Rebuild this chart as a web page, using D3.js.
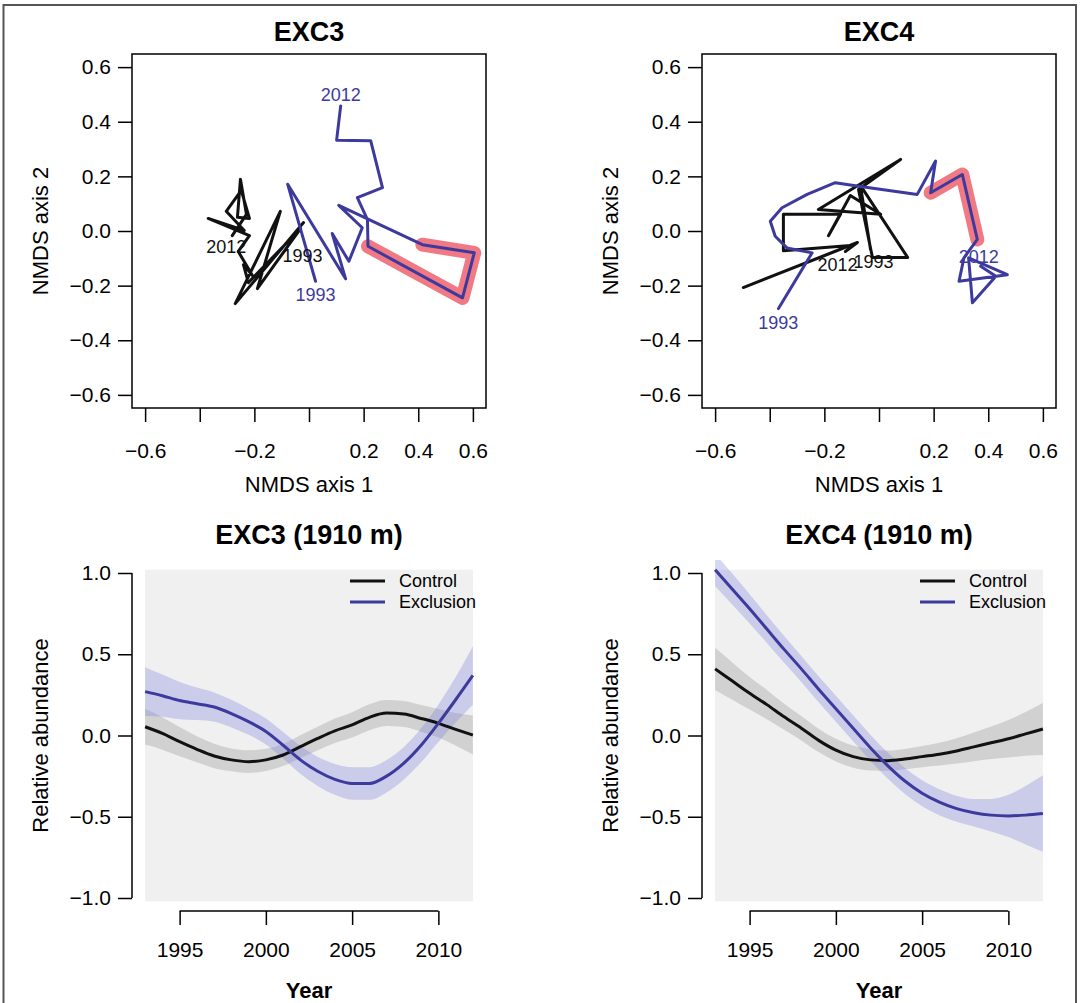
<!DOCTYPE html>
<html>
<head>
<meta charset="utf-8">
<script src="https://cdn.jsdelivr.net/npm/d3@7"></script>
<style>
    body { margin: 0; background: #fff; }
    svg text { font-family: "Liberation Sans", Arial, Helvetica, sans-serif; }
</style>
</head>
<body>
<div id="chart"></div>
<script>

// ---- NMDS trajectories (axis 1, axis 2), 1993 -> 2012
const exc3Control = [
    [-0.020, 0.031], [-0.270, -0.266], [-0.105, 0.072], [-0.189, -0.211], [-0.031, 0.009],
    [-0.222, -0.189], [-0.240, -0.123], [-0.207, -0.163], [-0.259, -0.075], [-0.218, -0.017],
    [-0.369, 0.046], [-0.237, 0.002], [-0.303, 0.072], [-0.248, 0.149], [-0.218, 0.046],
    [-0.262, 0.050], [-0.251, 0.189], [-0.229, 0.061], [-0.281, -0.017]
];
const exc3Exclusion = [
    [0.024, -0.184], [-0.078, 0.171], [0.134, -0.175], [0.085, -0.009], [0.146, -0.111],
    [0.195, 0.012], [0.109, 0.094], [0.415, -0.050], [0.605, -0.080], [0.562, -0.245],
    [0.216, -0.056], [0.214, 0.042], [0.177, 0.122], [0.269, 0.159], [0.226, 0.330],
    [0.101, 0.332], [0.116, 0.458]
];
const exc3Shift = [[0.415, -0.050], [0.605, -0.080], [0.562, -0.245], [0.216, -0.056]];
const exc3Labels = [
    {text: "2012", x: -0.303, y: -0.057, group: "control"},
    {text: "1993", x: -0.024, y: -0.090, group: "control"},
    {text: "1993", x: 0.024, y: -0.233, group: "exclusion"},
    {text: "2012", x: 0.116, y: 0.501, group: "exclusion"}
];

const exc4Control = [
    [-0.031, -0.068], [-0.068, 0.167], [0.105, -0.097], [-0.024, -0.097], [-0.075, 0.152],
    [0.079, 0.262], [-0.222, 0.079], [0.006, 0.061], [-0.105, 0.130], [-0.185, -0.017],
    [-0.141, 0.061], [-0.350, 0.061], [-0.350, -0.072], [-0.105, -0.053], [-0.497, -0.207],
    [-0.079, -0.042], [-0.123, -0.075]
];
const exc4Exclusion = [
    [-0.368, -0.284], [-0.245, -0.080], [-0.337, -0.062], [-0.380, -0.019], [-0.398, 0.036],
    [-0.355, 0.085], [-0.263, 0.134], [-0.160, 0.177], [-0.074, 0.164], [0.140, 0.134],
    [0.207, 0.256], [0.189, 0.140], [0.305, 0.207], [0.360, -0.031], [0.311, -0.098],
    [0.293, -0.184], [0.470, -0.160], [0.328, -0.098], [0.342, -0.263], [0.428, -0.166],
    [0.372, -0.129]
];
const exc4Shift = [[0.189, 0.140], [0.305, 0.207], [0.360, -0.031]];
const exc4Labels = [
    {text: "2012", x: -0.152, y: -0.123, group: "control"},
    {text: "1993", x: -0.020, y: -0.112, group: "control"},
    {text: "1993", x: -0.369, y: -0.336, group: "exclusion"},
    {text: "2012", x: 0.365, y: -0.094, group: "exclusion"}
];

const nmdsTicks = [-0.6, -0.4, -0.2, 0, 0.2, 0.4, 0.6];
const nmdsXLabelled = [-0.6, -0.2, 0.2, 0.4, 0.6];

// ---- smoothed relative abundance with confidence band
const years = [1993, 1994, 1995, 1996, 1997, 1998, 1999, 2000, 2001, 2002,
               2003, 2004, 2005, 2006, 2007, 2008, 2009, 2010, 2011, 2012];

const exc3ControlFit = [0.054, 0.013, -0.038, -0.085, -0.126, -0.150, -0.161, -0.150, -0.120, -0.069,
                        -0.018, 0.029, 0.065, 0.112, 0.138, 0.132, 0.105, 0.075, 0.038, 0.003];
const exc3ControlSE = [0.11, 0.10, 0.09, 0.08, 0.075, 0.07, 0.07, 0.068, 0.068, 0.07,
                       0.072, 0.075, 0.078, 0.08, 0.08, 0.08, 0.082, 0.088, 0.10, 0.12];
const exc3ExclusionFit = [0.27, 0.245, 0.215, 0.195, 0.175, 0.135, 0.085, 0.025, -0.06, -0.15,
                          -0.22, -0.27, -0.295, -0.295, -0.25, -0.17, -0.06, 0.075, 0.22, 0.37];
const exc3ExclusionSE = [0.15, 0.13, 0.115, 0.10, 0.09, 0.085, 0.08, 0.08, 0.082, 0.086,
                         0.09, 0.095, 0.10, 0.10, 0.10, 0.10, 0.105, 0.115, 0.14, 0.18];

const exc4ControlFit = [0.41, 0.335, 0.26, 0.19, 0.115, 0.045, -0.03, -0.09, -0.13, -0.15,
                        -0.155, -0.145, -0.13, -0.115, -0.095, -0.07, -0.045, -0.02, 0.01, 0.04];
const exc4ControlSE = [0.13, 0.115, 0.10, 0.09, 0.08, 0.075, 0.072, 0.07, 0.068, 0.065,
                       0.062, 0.062, 0.065, 0.07, 0.078, 0.088, 0.10, 0.115, 0.135, 0.16];
const exc4ExclusionFit = [1.02, 0.90, 0.78, 0.655, 0.53, 0.41, 0.285, 0.165, 0.045, -0.075,
                          -0.185, -0.28, -0.355, -0.41, -0.45, -0.475, -0.49, -0.495, -0.49, -0.48];
const exc4ExclusionSE = [0.10, 0.095, 0.09, 0.085, 0.082, 0.08, 0.08, 0.08, 0.08, 0.08,
                         0.08, 0.08, 0.08, 0.08, 0.08, 0.085, 0.10, 0.13, 0.18, 0.235];

const yearTicks = [1995, 2000, 2005, 2010];
const abundanceTicks = [-1, -0.5, 0, 0.5, 1];
const legendNames = ["Control", "Exclusion"];

const colors = {control: "#111111", exclusion: "#3d3a9e", shift: "#f06a75"};
const fmt1 = d3.format(".1f");


function styleAxis(sel)
{
    sel.select(".domain").remove();
    sel.attr("font-size", 21)
        .attr("font-family", "Liberation Sans, Arial, sans-serif");
    sel.selectAll(".tick line")
        .attr("stroke", "#000")
        .attr("stroke-width", 1.5);
    sel.selectAll(".tick text").attr("fill", "#000");
}


class NmdsVis
{
    constructor(svg, box, config)
    {
        this.svg = svg;
        this.box = box;
        this.config = config;
        this.initVis();
    }

    initVis()
    {
        let vis = this;
        vis.width = vis.box.width;
        vis.height = vis.box.height;

        vis.g = vis.svg.append("g")
            .attr("transform", `translate(${vis.box.left},${vis.box.top})`);

        // R style: 4% padding around [-0.6, 0.6]
        vis.x = d3.scaleLinear().domain([-0.648, 0.648]).range([0, vis.width]);
        vis.y = d3.scaleLinear().domain([-0.648, 0.648]).range([vis.height, 0]);

        vis.xAxis = d3.axisBottom(vis.x)
            .tickValues(nmdsTicks)
            .tickSize(14)
            .tickPadding(21)
            .tickFormat(d => nmdsXLabelled.includes(d) ? fmt1(d) : "");

        vis.yAxis = d3.axisLeft(vis.y)
            .tickValues(nmdsTicks)
            .tickSize(14)
            .tickPadding(7)
            .tickFormat(fmt1);

        vis.g.append("g")
            .attr("transform", `translate(0,${vis.height})`)
            .call(vis.xAxis)
            .call(styleAxis);

        vis.g.append("g")
            .call(vis.yAxis)
            .call(styleAxis);

        vis.line = d3.line()
            .x(d => vis.x(d[0]))
            .y(d => vis.y(d[1]));

        // highlighted shift first so the trajectories sit on top
        vis.g.append("path")
            .datum(vis.config.shift)
            .attr("d", vis.line)
            .attr("fill", "none")
            .attr("stroke", colors.shift)
            .attr("stroke-width", 14)
            .attr("stroke-opacity", 0.9)
            .attr("stroke-linecap", "round")
            .attr("stroke-linejoin", "round");

        vis.g.append("path")
            .datum(vis.config.control)
            .attr("d", vis.line)
            .attr("fill", "none")
            .attr("stroke", colors.control)
            .attr("stroke-width", 3)
            .attr("stroke-linejoin", "round")
            .attr("stroke-linecap", "round");

        vis.g.append("path")
            .datum(vis.config.exclusion)
            .attr("d", vis.line)
            .attr("fill", "none")
            .attr("stroke", colors.exclusion)
            .attr("stroke-width", 3)
            .attr("stroke-linejoin", "round")
            .attr("stroke-linecap", "round");

        vis.g.selectAll(".yearlabel")
            .data(vis.config.labels)
            .enter()
            .append("text")
            .attr("class", "yearlabel")
            .attr("x", d => vis.x(d.x))
            .attr("y", d => vis.y(d.y))
            .attr("dy", "0.36em")
            .attr("text-anchor", "middle")
            .attr("font-size", 18)
            .attr("fill", d => colors[d.group])
            .text(d => d.text);

        vis.g.append("rect")
            .attr("width", vis.width)
            .attr("height", vis.height)
            .attr("fill", "none")
            .attr("stroke", "#000")
            .attr("stroke-width", 1.5);

        vis.g.append("text")
            .attr("x", vis.width / 2)
            .attr("y", -13)
            .attr("text-anchor", "middle")
            .attr("font-size", 27)
            .attr("font-weight", "bold")
            .text(vis.config.title);

        vis.g.append("text")
            .attr("x", vis.width / 2)
            .attr("y", vis.height + 84)
            .attr("text-anchor", "middle")
            .attr("font-size", 22)
            .text("NMDS axis 1");

        vis.g.append("text")
            .attr("transform", `translate(-84,${vis.height / 2}) rotate(-90)`)
            .attr("text-anchor", "middle")
            .attr("font-size", 22)
            .text("NMDS axis 2");
    }
}


class TrendVis
{
    constructor(svg, box, config)
    {
        this.svg = svg;
        this.box = box;
        this.config = config;
        this.initVis();
    }

    initVis()
    {
        let vis = this;
        vis.width = vis.box.width;
        vis.height = vis.box.height;

        vis.g = vis.svg.append("g")
            .attr("transform", `translate(${vis.box.left},${vis.box.top})`);

        vis.x = d3.scaleLinear().domain([1993 - 0.76, 2012 + 0.76]).range([0, vis.width]);
        vis.y = d3.scaleLinear().domain([-1.08, 1.08]).range([vis.height, 0]);

        vis.g.append("clipPath")
            .attr("id", vis.config.id + "-clip")
            .append("rect")
            .attr("width", vis.width)
            .attr("height", vis.height);

        vis.plot = vis.g.append("g")
            .attr("clip-path", `url(#${vis.config.id}-clip)`);

        // pale panel behind the smooths
        vis.plot.append("rect")
            .attr("x", vis.x(years[0]))
            .attr("y", vis.y(1.02))
            .attr("width", vis.x(years[years.length - 1]) - vis.x(years[0]))
            .attr("height", vis.y(-1.02) - vis.y(1.02))
            .attr("fill", "#f0f0f0");

        vis.series = [
            {key: "control", fit: vis.config.controlFit, se: vis.config.controlSE,
                band: "#999999", bandOpacity: 0.35},
            {key: "exclusion", fit: vis.config.exclusionFit, se: vis.config.exclusionSE,
                band: "#7777dd", bandOpacity: 0.3}
        ];

        vis.area = d3.area()
            .curve(d3.curveMonotoneX)
            .x((d, i) => vis.x(years[i]))
            .y0(d => vis.y(d[0] - d[1]))
            .y1(d => vis.y(d[0] + d[1]));

        vis.line = d3.line()
            .curve(d3.curveMonotoneX)
            .x((d, i) => vis.x(years[i]))
            .y(d => vis.y(d));

        vis.series.forEach(s => {
            vis.plot.append("path")
                .datum(s.fit.map((v, i) => [v, s.se[i]]))
                .attr("d", vis.area)
                .attr("fill", s.band)
                .attr("fill-opacity", s.bandOpacity);
        });

        vis.series.forEach(s => {
            vis.plot.append("path")
                .datum(s.fit)
                .attr("d", vis.line)
                .attr("fill", "none")
                .attr("stroke", colors[s.key])
                .attr("stroke-width", 3);
        });

        // axes
        vis.xAxis = d3.axisBottom(vis.x)
            .tickValues(yearTicks)
            .tickSize(14)
            .tickPadding(17)
            .tickFormat(d3.format("d"));

        vis.yAxis = d3.axisLeft(vis.y)
            .tickValues(abundanceTicks)
            .tickSize(14)
            .tickPadding(7)
            .tickFormat(fmt1);

        vis.g.append("g")
            .attr("transform", `translate(0,${vis.height})`)
            .call(vis.xAxis)
            .call(styleAxis);

        vis.g.append("g")
            .call(vis.yAxis)
            .call(styleAxis);

        vis.g.append("line")
            .attr("x1", vis.x(yearTicks[0]))
            .attr("x2", vis.x(yearTicks[yearTicks.length - 1]))
            .attr("y1", vis.height)
            .attr("y2", vis.height)
            .attr("stroke", "#000")
            .attr("stroke-width", 1.5);

        vis.g.append("line")
            .attr("y1", vis.y(abundanceTicks[0]))
            .attr("y2", vis.y(abundanceTicks[abundanceTicks.length - 1]))
            .attr("stroke", "#000")
            .attr("stroke-width", 1.5);

        // legend
        let legend = vis.g.selectAll(".legend")
            .data(legendNames)
            .enter()
            .append("g")
            .attr("class", "legend")
            .attr("transform", (d, i) => `translate(218,${21 + i * 21})`);

        legend.append("line")
            .attr("x2", 35)
            .attr("stroke", (d, i) => colors[vis.series[i].key])
            .attr("stroke-width", 3);

        legend.append("text")
            .attr("x", 49)
            .attr("dy", "0.36em")
            .attr("font-size", 18)
            .text(d => d);

        vis.g.append("text")
            .attr("x", vis.width / 2)
            .attr("y", -16)
            .attr("text-anchor", "middle")
            .attr("font-size", 27)
            .attr("font-weight", "bold")
            .text(vis.config.title);

        vis.g.append("text")
            .attr("x", vis.width / 2)
            .attr("y", vis.height + 87)
            .attr("text-anchor", "middle")
            .attr("font-size", 22)
            .attr("font-weight", "bold")
            .text("Year");

        vis.g.append("text")
            .attr("transform", `translate(-84,${vis.y(0)}) rotate(-90)`)
            .attr("text-anchor", "middle")
            .attr("font-size", 22)
            .text("Relative abundance");
    }
}


const svg = d3.select("#chart")
    .append("svg")
    .attr("width", 1080)
    .attr("height", 1003);

svg.append("rect")
    .attr("width", 1080)
    .attr("height", 1003)
    .attr("fill", "#fff");

// outer frame of the figure
svg.append("rect")
    .attr("x", 3.5)
    .attr("y", 5)
    .attr("width", 1072.5)
    .attr("height", 1010)
    .attr("fill", "none")
    .attr("stroke", "#555")
    .attr("stroke-width", 2);

new NmdsVis(svg, {left: 132, top: 54, width: 354, height: 354},
    {title: "EXC3", control: exc3Control, exclusion: exc3Exclusion, shift: exc3Shift, labels: exc3Labels});

new NmdsVis(svg, {left: 702, top: 54, width: 354, height: 354},
    {title: "EXC4", control: exc4Control, exclusion: exc4Exclusion, shift: exc4Shift, labels: exc4Labels});

new TrendVis(svg, {left: 132, top: 560, width: 354, height: 351},
    {id: "exc3", title: "EXC3 (1910 m)",
        controlFit: exc3ControlFit, controlSE: exc3ControlSE,
        exclusionFit: exc3ExclusionFit, exclusionSE: exc3ExclusionSE});

new TrendVis(svg, {left: 702, top: 560, width: 354, height: 351},
    {id: "exc4", title: "EXC4 (1910 m)",
        controlFit: exc4ControlFit, controlSE: exc4ControlSE,
        exclusionFit: exc4ExclusionFit, exclusionSE: exc4ExclusionSE});

</script>
</body>
</html>
